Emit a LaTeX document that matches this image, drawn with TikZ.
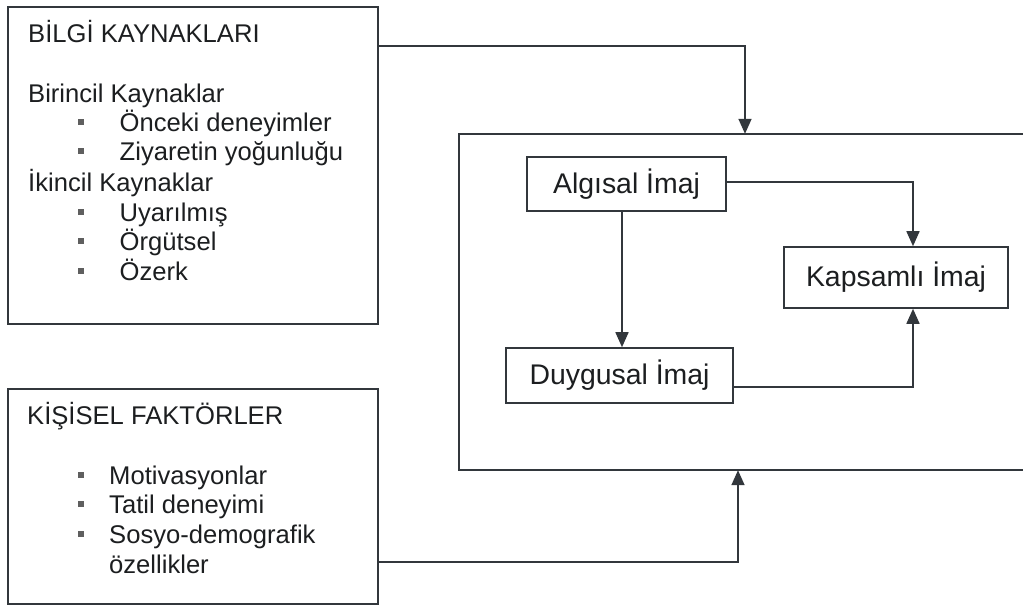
\documentclass[tikz,border=0pt]{standalone}
\usepackage{fontspec}
\setmainfont{Liberation Sans}
\usetikzlibrary{arrows.meta}
\definecolor{ln}{RGB}{50,55,60}
\definecolor{tx}{RGB}{28,30,32}
\definecolor{bl}{RGB}{95,95,95}
\begin{document}
\begin{tikzpicture}[x=1pt,y=-1pt,
  frame/.style={draw=ln, line width=1.6pt, inner sep=0pt},
  lbl/.style={frame, font=\fontsize{28.4}{34}\selectfont, text=tx},
  txt/.style={anchor=base west, inner sep=0pt, font=\fontsize{25.6}{30}\selectfont, text=tx},
  bul/.style={fill=bl, minimum size=6pt, inner sep=0pt},
  arr/.style={draw=ln, line width=1.6pt, -{Triangle[length=15pt,width=13pt]}}]
\useasboundingbox (0,0) rectangle (1023,606);
\fill[white] (0,0) rectangle (1023,606);

% outer boxes
\node[frame, minimum width=370pt, minimum height=317pt] (bilgi) at (193,165.5) {};
\node[frame, minimum width=370pt, minimum height=215pt] (kisisel) at (193,496.5) {};
\node[inner sep=0pt, minimum width=564pt, minimum height=336pt] (imaj) at (741,302) {};
\draw[ln, line width=1.6pt] (imaj.north east) -- (imaj.north west) -- (imaj.south west) -- (imaj.south east);

% inner boxes
\node[lbl, minimum width=199pt, minimum height=54pt] (alg) at (626.5,184) {Algısal İmaj};
\node[lbl, minimum width=227pt, minimum height=55pt] (duy) at (619.5,375.5) {Duygusal İmaj};
\node[lbl, minimum width=224pt, minimum height=61pt] (kap) at (896,277.5) {Kapsamlı İmaj};

% connectors
\draw[arr] (bilgi.east |- 0,46) -| ([xshift=4pt]imaj.north);
\draw[arr] (kisisel.east |- 0,562) -| ([xshift=-3pt]imaj.south);
\draw[arr] ([xshift=-4.5pt]alg.south) -- ([xshift=2.5pt]duy.north);
\draw[arr] (alg.east |- 0,182) -| ([xshift=17pt]kap.north);
\draw[arr] (duy.east |- 0,387) -| ([xshift=17pt]kap.south);

% texts box 1
\node[txt] (t1) at (28,42) {BİLGİ KAYNAKLARI};
\node[txt] (t2) at (28,102) {Birincil Kaynaklar};
\node[txt] (t3) at (119.5,131) {Önceki deneyimler};
\node[txt] (t4) at (119.5,160) {Ziyaretin yoğunluğu};
\node[txt] (t5) at (28,191) {İkincil Kaynaklar};
\node[txt] (t6) at (119.5,221) {Uyarılmış};
\node[txt] (t7) at (119.5,250) {Örgütsel};
\node[txt] (t8) at (119.5,280) {Özerk};
\node[bul] (b1) at (80.5,122) {};
\node[bul] (b2) at (80.5,151) {};
\node[bul] (b3) at (80.5,212) {};
\node[bul] (b4) at (80.5,241) {};
\node[bul] (b5) at (80.5,271) {};

% texts box 2
\node[txt] (k1) at (27,424) {KİŞİSEL FAKTÖRLER};
\node[txt] (k2) at (109,484) {Motivasyonlar};
\node[txt] (k3) at (109,513) {Tatil deneyimi};
\node[txt] (k4) at (109,543) {Sosyo-demografik};
\node[txt] (k5) at (109,573) {özellikler};
\node[bul] (c1) at (80.5,475) {};
\node[bul] (c2) at (80.5,504) {};
\node[bul] (c3) at (80.5,534) {};
\end{tikzpicture}
\end{document}
